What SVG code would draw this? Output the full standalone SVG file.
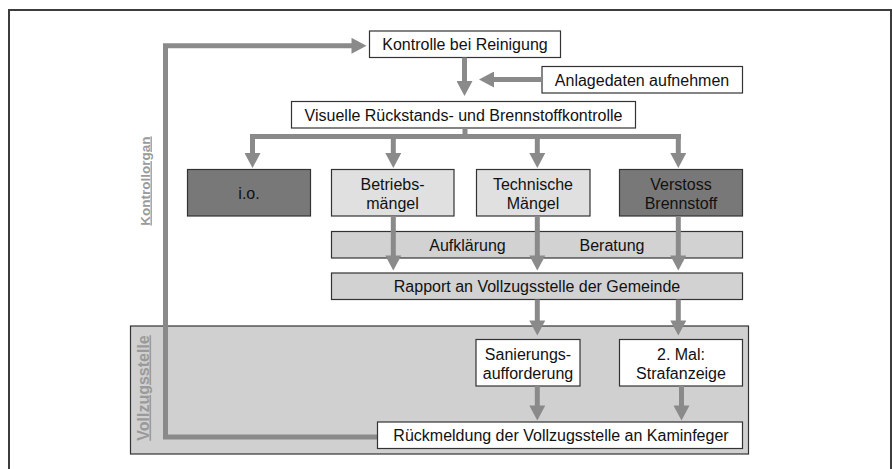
<svg xmlns="http://www.w3.org/2000/svg" width="893" height="469" viewBox="0 0 893 469">
<style>
text{font-family:"Liberation Sans",Arial,sans-serif;font-size:16px;fill:#111;text-anchor:middle}
.box{stroke:#333;stroke-width:1.2}
.w{fill:#fff}
.lt{fill:#e0e0e0}
.dk{fill:#787878}
.bar{fill:#d2d2d2}
.lbl{font-weight:bold;fill:#9a9a9a;text-decoration:underline}
.ar{fill:none;stroke:#8a8a8a;stroke-width:5}
</style>
<defs>
<marker id="ah" markerUnits="userSpaceOnUse" markerWidth="16" markerHeight="16" viewBox="0 0 15 16" refX="0.5" refY="8" orient="auto">
<path d="M0,0 L15,8 L0,16 z" fill="#8a8a8a"/>
</marker>
</defs>
<rect x="9" y="10" width="882" height="480" fill="#fff" stroke="#3c3c3c" stroke-width="2"/>
<g id="vollzugsstelle-region">
<rect x="130.5" y="326" width="618" height="128" fill="#d0d0d0" stroke="#333" stroke-width="1.2"/>
</g>
<g id="labels">
<text class="lbl" style="font-size:13.5px" transform="translate(149.5,181) rotate(-90)">Kontrollorgan</text>
<text class="lbl" transform="translate(148.5,388) rotate(-90)">Vollzugsstelle</text>
</g>
<g id="loop">
<path class="ar" d="M377,437 H165.5 V45.8 H352" marker-end="url(#ah)"/>
</g>
<g id="n-kontrolle"><rect class="box w" x="369.5" y="31" width="191" height="26.5"/><text x="465" y="50">Kontrolle bei Reinigung</text></g>
<g id="n-anlagedaten"><rect class="box w" x="542" y="66.5" width="200.5" height="26.5"/><text x="642" y="85.5">Anlagedaten aufnehmen</text></g>
<g id="n-visuelle"><rect class="box w" x="291.5" y="101.5" width="344" height="26.5"/><text x="463.5" y="120.5">Visuelle Rückstands- und Brennstoffkontrolle</text></g>
<g id="n-io"><rect class="box dk" x="187.5" y="169.5" width="123" height="46.5"/><text x="249" y="198.5">i.o.</text></g>
<g id="n-betriebs"><rect class="box lt" x="331.5" y="169.5" width="122.5" height="46.5"/><text x="392.5" y="190">Betriebs-</text><text x="392.5" y="208.5">mängel</text></g>
<g id="n-technische"><rect class="box lt" x="476.5" y="169.5" width="113.5" height="46.5"/><text x="533" y="190">Technische</text><text x="533" y="208.5">Mängel</text></g>
<g id="n-verstoss"><rect class="box dk" x="619.5" y="169.5" width="123" height="46.5"/><text x="681" y="190">Verstoss</text><text x="681" y="208.5">Brennstoff</text></g>
<g id="n-aufklaerung"><rect class="box bar" x="331.5" y="231.5" width="411" height="26.5"/><text x="467.5" y="250.5">Aufklärung</text><text x="612" y="250.5">Beratung</text></g>
<g id="n-rapport"><rect class="box bar" x="331.5" y="273" width="411" height="26.5"/><text x="537" y="292">Rapport an Vollzugsstelle der Gemeinde</text></g>
<g id="n-sanierung"><rect class="box w" x="476" y="339.5" width="104" height="46.5"/><text x="528" y="360">Sanierungs-</text><text x="528" y="378.5">aufforderung</text></g>
<g id="n-strafanzeige"><rect class="box w" x="619.5" y="339.5" width="123" height="46.5"/><text x="681" y="360">2. Mal:</text><text x="681" y="378.5">Strafanzeige</text></g>
<g id="n-rueckmeldung"><rect class="box w" x="377.5" y="422" width="365" height="26.5"/><text x="561" y="441">Rückmeldung der Vollzugsstelle an Kaminfeger</text></g>
<g id="connectors">
<path class="ar" d="M464.5,57.5 V81.5" marker-end="url(#ah)"/>
<path class="ar" d="M542,79.5 H493.5" marker-end="url(#ah)"/>
<path class="ar" d="M465,128 V136.5"/>
<path class="ar" d="M250,136.5 H681"/>
<path class="ar" d="M252.5,136.5 V153.5" marker-end="url(#ah)"/>
<path class="ar" d="M393.3,136.5 V153.5" marker-end="url(#ah)"/>
<path class="ar" d="M537.3,136.5 V153.5" marker-end="url(#ah)"/>
<path class="ar" d="M678.3,136.5 V153.5" marker-end="url(#ah)"/>
<path class="ar" d="M393.3,216 V256" marker-end="url(#ah)"/>
<path class="ar" d="M537.3,216 V256" marker-end="url(#ah)"/>
<path class="ar" d="M678.3,216 V256" marker-end="url(#ah)"/>
<path class="ar" d="M537.3,299.5 V321" marker-end="url(#ah)"/>
<path class="ar" d="M678.3,299.5 V321" marker-end="url(#ah)"/>
<path class="ar" d="M537.3,386 V406" marker-end="url(#ah)"/>
<path class="ar" d="M681.5,386 V406" marker-end="url(#ah)"/>
</g>
</svg>
